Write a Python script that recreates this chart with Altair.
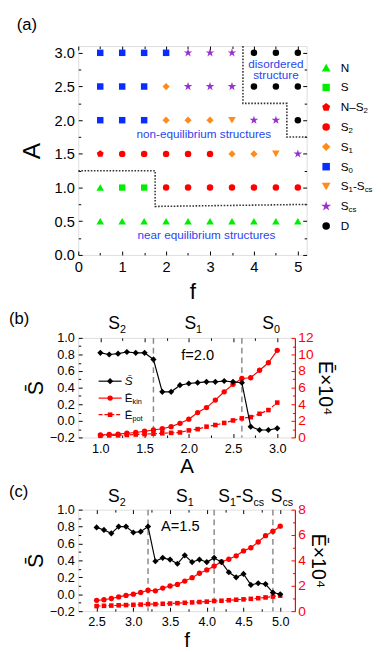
import altair as alt
import pandas as pd

FONT = "Liberation Sans"
RED = "#ff0000"
BLUE_TXT = "#2b45f0"

# ---------------- panel (a) values ----------------
A_F = [0.5, 1.0, 1.5, 2.0, 2.5, 3.0, 3.5, 4.0, 4.5, 5.0]
A_ROWS = [3.0, 2.5, 2.0, 1.5, 1.0, 0.5]
A_PHASES = [
    ["S0", "S0", "S0", "S0", "Scs", "Scs", "Scs", "D", "D", "D"],
    ["S0", "S0", "S0", "S1", "Scs", "Scs", "Scs", "D", "D", "D"],
    ["S0", "S0", "S0", "S1", "S1", "S1", "S1-Scs", "Scs", "Scs", "D"],
    ["N-S2", "S2", "S2", "S2", "S2", "S2", "S1", "S1", "S1-Scs", "Scs"],
    ["N", "S", "S", "S2", "S2", "S2", "S2", "S2", "S2", "S2"],
    ["N", "N", "N", "N", "N", "N", "N", "N", "N", "N"],
]
PHASES = ["N", "S", "N-S2", "S2", "S1", "S0", "S1-Scs", "Scs", "D"]
PHASE_LABELS = {
    "N": [("N", 0)],
    "S": [("S", 0)],
    "N-S2": [("N\u2013S", 0), ("2", 1)],
    "S2": [("S", 0), ("2", 1)],
    "S1": [("S", 0), ("1", 1)],
    "S0": [("S", 0), ("0", 1)],
    "S1-Scs": [("S", 0), ("1", 1), ("-S", 0), ("cs", 1)],
    "Scs": [("S", 0), ("cs", 1)],
    "D": [("D", 0)],
}
LOWER_F = [0.0, 1.75, 1.75, 5.2]
LOWER_A = [1.25, 1.25, 0.72, 0.75]
UPPER_F = [3.75, 3.75, 4.75, 4.75, 5.2]
UPPER_A = [3.1, 2.25, 2.25, 1.75, 1.75]
A_TEXT = ["disordered", "structure", "non-equilibrium structures", "near equilibrium structures"]
A_TEXT_F = [4.5, 4.5, 2.86, 2.92]
A_TEXT_A = [2.84, 2.67, 1.79, 0.29]

# ---------------- panel (b) values ----------------
B_A = [1.0, 1.1, 1.2, 1.3, 1.4, 1.5, 1.6, 1.7, 1.8, 1.9, 2.0,
       2.1, 2.2, 2.3, 2.4, 2.5, 2.6, 2.7, 2.8, 2.9, 3.0]
B_S = [0.82, 0.80, 0.81, 0.83, 0.82, 0.82, 0.74, 0.35, 0.35, 0.43, 0.45,
       0.46, 0.47, 0.47, 0.48, 0.47, 0.46, -0.07, -0.11, -0.11, -0.09]
B_EKIN = [0.3, 0.35, 0.4, 0.5, 0.6, 0.75, 0.9, 1.05, 1.3, 1.7, 2.2,
          3.0, 3.6, 4.5, 5.5, 6.4, 7.1, 7.2, 8.1, 9.0, 10.5]
B_EPOT = [0.2, 0.25, 0.25, 0.3, 0.35, 0.4, 0.45, 0.5, 0.55, 0.6, 0.85,
          1.0, 1.3, 1.5, 1.75, 2.05, 2.3, 2.45, 2.85, 3.3, 4.2]
B_VLINES = [1.6, 2.6]
B_TOP = [("S2", 1.09), ("S1", 1.95), ("S0", 2.83)]

# ---------------- panel (c) values ----------------
C_F = [2.5, 2.6, 2.7, 2.8, 2.9, 3.0, 3.1, 3.2, 3.3, 3.4, 3.5, 3.6, 3.7,
       3.8, 3.9, 4.0, 4.1, 4.2, 4.3, 4.4, 4.5, 4.6, 4.7, 4.8, 4.9, 5.0]
C_S = [0.79, 0.76, 0.72, 0.80, 0.80, 0.73, 0.74, 0.80, 0.39, 0.43, 0.41, 0.36, 0.46,
       0.38, 0.41, 0.38, 0.43, 0.38, 0.26, 0.20, 0.24, 0.11, 0.13, 0.12, 0.02, 0.00]
C_EKIN = [0.85, 0.9, 1.0, 1.12, 1.24, 1.34, 1.47, 1.65, 1.6, 1.82, 1.98, 2.11, 2.37,
          2.64, 2.99, 3.25, 3.55, 3.9, 4.09, 4.36, 4.75, 5.0, 5.45, 5.95, 6.3, 6.7]
C_EPOT = [0.4, 0.42, 0.44, 0.46, 0.48, 0.5, 0.52, 0.55, 0.55, 0.58, 0.6, 0.63, 0.66,
          0.69, 0.72, 0.75, 0.8, 0.82, 0.86, 0.9, 0.93, 0.97, 1.02, 1.08, 1.15, 1.22]
C_VLINES = [3.2, 4.1, 4.9]
C_TOP = [("S2", 2.655), ("S1", 3.58), ("S1-Scs", 4.155), ("Scs", 4.87)]

# ---------------- styles ----------------
PENTAGON = "M0,-1L0.951,-0.309L0.588,0.809L-0.588,0.809L-0.951,-0.309Z"
STAR = ("M0,-1L0.225,-0.309L0.951,-0.309L0.363,0.118L0.588,0.809L0,0.382"
        "L-0.588,0.809L-0.363,0.118L-0.951,-0.309L-0.225,-0.309Z")
PHASE_COLORS = ["#00ee00", "#00ee00", "#ff0000", "#ff0000", "#ff8c1a",
                "#0a2cff", "#ff8c1a", "#9a30d0", "#000000"]
PHASE_SHAPES = ["triangle-up", "square", PENTAGON, "circle", "diamond",
                "square", "triangle-down", STAR, "circle"]
PHASE_SIZE = {"N": 60, "S": 42, "N-S2": 55, "S2": 44, "S1": 55, "S0": 44,
              "S1-Scs": 60, "Scs": 85, "D": 44}

ARIAL_W = {"N": 722, "S": 667, "D": 722, "E": 667, "A": 667, "-": 333, "\u2013": 556,
           "c": 500, "s": 500, "k": 500, "i": 222, "n": 556, "p": 556, "o": 556,
           "t": 278, "=": 584, ".": 278, "f": 278, "\u0304": 0}


def text_w(text, fs):
    return sum(ARIAL_W.get(ch, 556) for ch in text) / 1000.0 * fs


def seg_frames(items, ppu, main_fs, sub_fs):
    main, sub = [], []
    for segs, x0, y in items:
        off = 0.0
        for t, is_sub in segs:
            fs = sub_fs if is_sub else main_fs
            (sub if is_sub else main).append({"x": x0 + off / ppu, "y": y, "t": t})
            off += text_w(t, fs)
    return pd.DataFrame(main), pd.DataFrame(sub)


def seg_layers(items, ppu, xs, ys, main_fs, sub_fs, sub_dy, color="black"):
    m, s = seg_frames(items, ppu, main_fs, sub_fs)
    out = [alt.Chart(m).mark_text(align="left", baseline="middle", font=FONT,
                                  fontSize=main_fs, color=color).encode(
        x=alt.X("x:Q", scale=xs, axis=None), y=alt.Y("y:Q", scale=ys, axis=None), text="t:N")]
    if len(s):
        out.append(alt.Chart(s).mark_text(align="left", baseline="middle", font=FONT,
                                          fontSize=sub_fs, dy=sub_dy, color=color).encode(
            x=alt.X("x:Q", scale=xs, axis=None), y=alt.Y("y:Q", scale=ys, axis=None), text="t:N"))
    return out


def tick_axis(orient, offset, values, size, color="black"):
    return alt.Axis(orient=orient, offset=offset, values=values, tickSize=size, ticks=True,
                    labels=False, domain=False, grid=False, title=None, tickColor=color,
                    tickWidth=1)


def label_axis(orient, values, fmt, title, lfs, tfs, lpad, tpad, color="black",
               domain=False, title_color="black"):
    return alt.Axis(orient=orient, values=values, format=fmt, ticks=False, tickSize=0,
                    domain=domain, domainColor=color, domainWidth=1.2, grid=False,
                    labelFont=FONT, labelFontSize=lfs, labelColor=color, labelPadding=lpad,
                    labelFlush=False, labelOverlap=False, title=title, titleFont=FONT,
                    titleFontSize=tfs, titleFontWeight="normal", titleColor=title_color,
                    titlePadding=tpad)


def carriers(xs, ys, xdom, ydom, xaxes, yaxes):
    # invisible point in the middle of the domain that only carries axes
    cdf = pd.DataFrame({"cx": [(xdom[0] + xdom[1]) / 2], "cy": [(ydom[0] + ydom[1]) / 2]})
    n = max(len(xaxes), len(yaxes))
    out = []
    for i in range(n):
        xa_ = xaxes[i] if i < len(xaxes) else None
        ya_ = yaxes[i] if i < len(yaxes) else None
        out.append(alt.Chart(cdf).mark_point(opacity=0, size=1).encode(
            x=alt.X("cx:Q", scale=xs, axis=xa_), y=alt.Y("cy:Q", scale=ys, axis=ya_)))
    return out


def panel_label(text, dx, dy):
    return alt.Chart(pd.DataFrame({"t": [text]})).mark_text(
        align="left", baseline="middle", font=FONT, fontSize=17, color="black").encode(
        x=alt.value(dx), y=alt.value(dy), text="t:N")


# =============== panel (a) ===============
W_A, H_A = 234, 214
XDOM_A, YDOM_A = [0, 5.2], [0, 3.1]
xa = alt.Scale(domain=XDOM_A, nice=False, zero=False)
ya = alt.Scale(domain=YDOM_A, nice=False, zero=False)
ppu_a = W_A / 5.2

pts = []
for A, row in zip(A_ROWS, A_PHASES):
    for f, ph in zip(A_F, row):
        pts.append({"f": f, "A": A, "phase": ph, "sz": PHASE_SIZE[ph]})
pts = pd.DataFrame(pts)

shape_enc = alt.Shape("phase:N", scale=alt.Scale(domain=PHASES, range=PHASE_SHAPES), legend=None)
color_enc = alt.Color("phase:N", scale=alt.Scale(domain=PHASES, range=PHASE_COLORS), legend=None)

points_a = alt.Chart(pts).mark_point(filled=True, opacity=1, strokeWidth=0).encode(
    x=alt.X("f:Q", scale=xa, axis=None), y=alt.Y("A:Q", scale=ya, axis=None),
    shape=shape_enc, color=color_enc, size=alt.Size("sz:Q", scale=None, legend=None))

bounds = pd.DataFrame(
    [{"line": "low", "o": i, "f": f, "A": a} for i, (f, a) in enumerate(zip(LOWER_F, LOWER_A))] +
    [{"line": "up", "o": i, "f": f, "A": a} for i, (f, a) in enumerate(zip(UPPER_F, UPPER_A))])
bound_lines = alt.Chart(bounds).mark_line(color="#333333", strokeWidth=1.6,
                                          strokeDash=[1.6, 1.6]).encode(
    x=alt.X("f:Q", scale=xa, axis=None), y=alt.Y("A:Q", scale=ya, axis=None),
    detail="line:N", order="o:Q")

atext = pd.DataFrame({"f": A_TEXT_F, "A": A_TEXT_A, "t": A_TEXT})
texts_a = alt.Chart(atext).mark_text(font=FONT, fontSize=12, color=BLUE_TXT,
                                     baseline="middle", align="center").encode(
    x=alt.X("f:Q", scale=xa, axis=None), y=alt.Y("A:Q", scale=ya, axis=None), text="t:N")

LEG_MARK_F = (325 - 71) / ppu_a
LEG_LAB_F = (340 - 71) / ppu_a
leg_rows = pd.DataFrame([{"f": LEG_MARK_F, "A": 2.78 - i * 0.294, "phase": ph,
                          "sz": PHASE_SIZE[ph] * 1.35} for i, ph in enumerate(PHASES)])
leg_marks = alt.Chart(leg_rows).mark_point(filled=True, opacity=1, strokeWidth=0).encode(
    x=alt.X("f:Q", scale=xa, axis=None), y=alt.Y("A:Q", scale=ya, axis=None),
    shape=shape_enc, color=color_enc, size=alt.Size("sz:Q", scale=None, legend=None))
leg_text = seg_layers([(PHASE_LABELS[ph], LEG_LAB_F, 2.78 - i * 0.294) for i, ph in enumerate(PHASES)],
                      ppu_a, xa, ya, 12, 8, 4)

A_XMAJ = [0, 1, 2, 3, 4, 5]
A_XMIN = [0.5, 1.5, 2.5, 3.5, 4.5]
A_YMAJ = [0.0, 0.5, 1.0, 1.5, 2.0, 2.5, 3.0]
A_YMIN = [0.25, 0.75, 1.25, 1.75, 2.25, 2.75]
car_a = carriers(
    xa, ya, XDOM_A, YDOM_A,
    [label_axis("bottom", A_XMAJ, "d", "f", 15, 23, 5, 7),
     tick_axis("top", -H_A, A_XMAJ, 4), tick_axis("top", -H_A, A_XMIN, 2.5),
     tick_axis("bottom", -H_A, A_XMAJ, 4), tick_axis("bottom", -H_A, A_XMIN, 2.5)],
    [label_axis("left", A_YMAJ, ".1f", "A", 15, 25, 4, 10),
     tick_axis("right", -W_A, A_YMAJ, 4), tick_axis("right", -W_A, A_YMIN, 2.5),
     tick_axis("left", -W_A, A_YMAJ, 4), tick_axis("left", -W_A, A_YMIN, 2.5)])

chart_a = alt.layer(*car_a, bound_lines, texts_a, points_a, leg_marks, *leg_text,
                    panel_label("(a)", -63, -21)).resolve_axis(
    x="independent", y="independent").properties(width=W_A, height=H_A)


# =============== panels (b) and (c) ===============
def series_panel(xv, sv, ekin, epot, vlines, top, xdom, edom, W, H, xmaj, xmin, emaj, emin,
                 xtitle, label, label_dy, top_dy, note, note_x, note_y, legend):
    ydom = [-0.2, 1.0]
    xs = alt.Scale(domain=xdom, nice=False, zero=False)
    ys = alt.Scale(domain=ydom, nice=False, zero=False)
    es = alt.Scale(domain=edom, nice=False, zero=False)
    ppu = W / (xdom[1] - xdom[0])
    df = pd.DataFrame({"x": xv, "s": sv, "ek": ekin, "ep": epot})
    X = alt.X("x:Q", scale=xs, axis=None)
    layers = []
    vl = pd.DataFrame({"v": vlines})
    layers.append(alt.Chart(vl).mark_rule(color="#8a8a8a", strokeWidth=1.5,
                                          strokeDash=[6, 4]).encode(
        x=alt.X("v:Q", scale=xs, axis=None), y=alt.value(0), y2=alt.value(H)))
    layers.append(alt.Chart(df).mark_line(color=RED, strokeWidth=1.2).encode(
        x=X, y=alt.Y("ek:Q", scale=es, axis=None)))
    layers.append(alt.Chart(df).mark_point(filled=True, opacity=1, shape="circle", size=30,
                                           color=RED, strokeWidth=0).encode(
        x=X, y=alt.Y("ek:Q", scale=es, axis=None)))
    layers.append(alt.Chart(df).mark_line(color=RED, strokeWidth=1.2, strokeDash=[4, 2]).encode(
        x=X, y=alt.Y("ep:Q", scale=es, axis=None)))
    layers.append(alt.Chart(df).mark_point(filled=True, opacity=1, shape="square", size=22,
                                           color=RED, strokeWidth=0).encode(
        x=X, y=alt.Y("ep:Q", scale=es, axis=None)))
    layers.append(alt.Chart(df).mark_line(color="black", strokeWidth=1.2).encode(
        x=X, y=alt.Y("s:Q", scale=ys, axis=None)))
    layers.append(alt.Chart(df).mark_point(filled=True, opacity=1, shape="diamond", size=40,
                                           color="black", strokeWidth=0).encode(
        x=X, y=alt.Y("s:Q", scale=ys, axis=None)))
    top_y = 1.0 + top_dy / (H / 1.2)
    layers += seg_layers([(PHASE_LABELS[k], x0, top_y) for k, x0 in top], ppu, xs, ys, 18, 11, 6)
    layers.append(alt.Chart(pd.DataFrame({"x": [note_x], "y": [note_y], "t": [note]})).mark_text(
        font=FONT, fontSize=15, align="center", baseline="middle", color="black").encode(
        x=alt.X("x:Q", scale=xs, axis=None), y=alt.Y("y:Q", scale=ys, axis=None), text="t:N"))
    if legend:
        lx1, lx2, lxm, llab = legend["x1"], legend["x2"], legend["xm"], legend["lab"]
        rows = legend["rows"]
        specs = [("black", None, "diamond", 40), (RED, None, "circle", 30), (RED, [4, 2], "square", 22)]
        for (color, dash, shp, sz), yv in zip(specs, rows):
            ldf = pd.DataFrame({"x1": [lx1], "x2": [lx2], "xm": [lxm], "y": [yv]})
            rule_kw = {"color": color, "strokeWidth": 1.2}
            if dash:
                rule_kw["strokeDash"] = dash
            layers.append(alt.Chart(ldf).mark_rule(**rule_kw).encode(
                x=alt.X("x1:Q", scale=xs, axis=None), x2="x2:Q",
                y=alt.Y("y:Q", scale=ys, axis=None)))
            layers.append(alt.Chart(ldf).mark_point(filled=True, opacity=1, shape=shp, size=sz,
                                                    color=color, strokeWidth=0).encode(
                x=alt.X("xm:Q", scale=xs, axis=None), y=alt.Y("y:Q", scale=ys, axis=None)))
        layers.append(alt.Chart(pd.DataFrame({"x": [llab], "y": [rows[0]], "t": ["S\u0304"]})).mark_text(
            font=FONT, fontSize=12, fontStyle="italic", align="left", baseline="middle").encode(
            x=alt.X("x:Q", scale=xs, axis=None), y=alt.Y("y:Q", scale=ys, axis=None), text="t:N"))
        layers += seg_layers([([("E\u0304", 0), ("kin", 1)], llab, rows[1]),
                              ([("E\u0304", 0), ("pot", 1)], llab, rows[2])],
                             ppu, xs, ys, 12, 7.5, 4)
    layers.append(panel_label(label, -71, label_dy))
    SMAJ = [-0.2, 0.0, 0.2, 0.4, 0.6, 0.8, 1.0]
    SMIN = [-0.1, 0.1, 0.3, 0.5, 0.7, 0.9]
    layers += carriers(
        xs, ys, xdom, ydom,
        [label_axis("bottom", xmaj, ".1f", xtitle, 13, 21, 5, 1),
         tick_axis("top", -H, xmaj, 4), tick_axis("top", -H, xmin, 2.5)],
        [label_axis("left", SMAJ, ".1f", "S\u0304", 13, 22, 4, 2),
         tick_axis("right", -W, SMAJ, 4), tick_axis("right", -W, SMIN, 2.5)])
    layers += carriers(
        xs, es, xdom, edom,
        [tick_axis("bottom", -H, xmaj, 4), tick_axis("bottom", -H, xmin, 2.5)],
        [label_axis("right", emaj, "d", "E\u0304\u00d710\u2074", 14, 20, 3, 2, color=RED, domain=True),
         tick_axis("left", -W, emaj, 4, RED), tick_axis("left", -W, emin, 2.5, RED)])
    return alt.layer(*layers).resolve_scale(y="independent").resolve_axis(
        x="independent", y="independent").properties(width=W, height=H)


W_B, H_B = 222, 102
chart_b = series_panel(
    B_A, B_S, B_EKIN, B_EPOT, B_VLINES, B_TOP, [0.75, 3.2], [0, 12], W_B, H_B,
    [1.0, 1.5, 2.0, 2.5, 3.0], [1.25, 1.75, 2.25, 2.75],
    [0, 2, 4, 6, 8, 10, 12], [1, 3, 5, 7, 9, 11], "A", "(b)", -19, 14,
    "f=2.0", 2.10, 0.79,
    {"x1": 0.98, "x2": 1.24, "xm": 1.11, "lab": 1.275, "rows": [0.478, 0.274, 0.074]})

W_C, H_C = 222, 104
chart_c = series_panel(
    C_F, C_S, C_EKIN, C_EPOT, C_VLINES, C_TOP, [2.25, 5.2], [0, 8], W_C, H_C,
    [2.5, 3.0, 3.5, 4.0, 4.5, 5.0], [2.75, 3.25, 3.75, 4.25, 4.75],
    [0, 2, 4, 6, 8], [1, 3, 5, 7], "f", "(c)", -18, 13,
    "A=1.5", 3.64, 0.80, None)

chart = alt.vconcat(chart_a, chart_b, chart_c, spacing=5).properties(
    padding=0).configure_view(stroke="black", strokeWidth=1).configure(font=FONT)

chart.save("out.html", embed_options={"renderer": "svg", "actions": False})
